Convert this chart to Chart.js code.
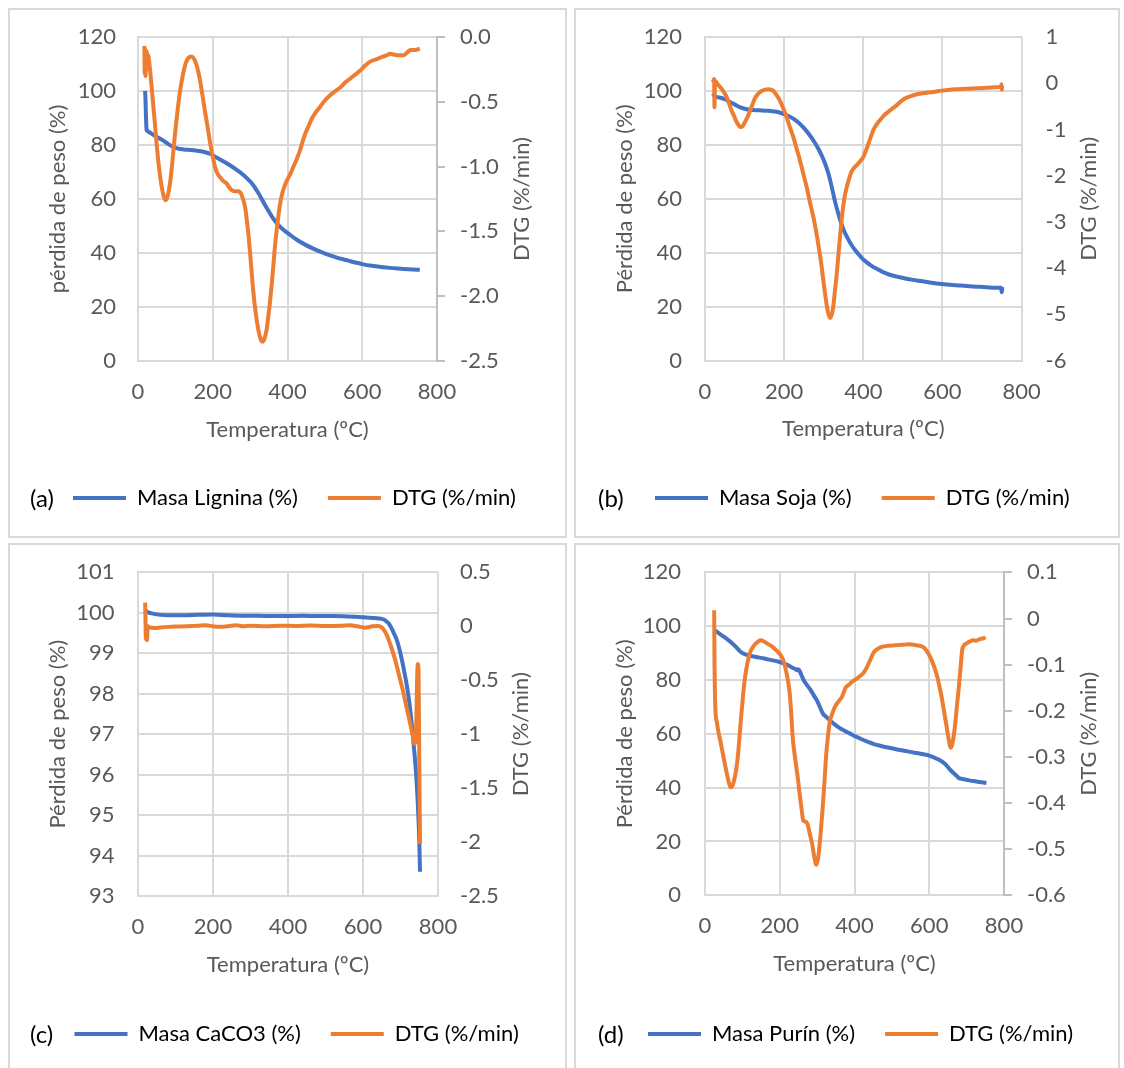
<!DOCTYPE html>
<html>
<head>
<meta charset="utf-8">
<title>Termogravimetría</title>
<script src="https://cdn.jsdelivr.net/npm/chart.js"></script>
<style>
  body { margin: 0; background: #fff; overflow: hidden; }
  #page { position: relative; width: 1124px; height: 1068px; overflow: hidden; font-family: Lato, sans-serif; }
  .panel { position: absolute; border: 2px solid #d9d9d9; box-sizing: border-box; overflow: hidden; }
  .panel canvas { position: absolute; left: 0; top: 0; }
  .tag { position: absolute; font-size: 24px; line-height: 28px; color: #000; }
</style>
</head>
<body>
<div id="page"></div>

<script>
// ---- (a) Lignina ----
const tMasaLignina = [19, 20, 21, 22, 23, 25, 36, 50, 67, 80, 94, 112, 135, 156, 175, 192, 210, 228, 246, 264, 282, 295, 308, 322, 335, 349, 362, 375, 389, 405, 425, 447, 469, 491, 514, 536, 559, 581, 603, 630, 657, 684, 711, 735, 754];
const masaLignina = [100, 97, 92, 88, 85.5, 85.2, 84.2, 83, 81.7, 80.4, 79.3, 78.5, 78.2, 77.9, 77.5, 76.8, 75.4, 74, 72.5, 70.8, 68.9, 67.2, 65.2, 62.2, 59, 55.6, 52.7, 50.4, 48.6, 46.9, 44.9, 43.1, 41.6, 40.3, 39.1, 38.1, 37.3, 36.5, 35.8, 35.2, 34.7, 34.4, 34.1, 33.9, 33.8];
const tDtgLignina = [17, 18, 19, 20, 21, 22, 23.5, 25, 27, 31, 36, 40, 45, 50, 54, 58, 63, 68, 74, 80, 86, 90, 94, 100, 107, 114, 121, 128, 135, 143, 152, 158, 165, 172, 179, 186, 192, 199, 206, 212, 219, 228, 237, 244, 250, 258, 268, 276, 282, 287, 291, 296, 300, 304, 308, 315, 322, 328, 333, 338, 344, 348, 353, 358, 362, 366, 371, 377, 384, 391, 398, 407, 416, 425, 434, 440, 447, 456, 465, 476, 487, 500, 514, 527, 541, 555, 568, 581, 594, 608, 621, 639, 657, 666, 675, 684, 693, 702, 711, 720, 729, 742, 754];
const dtgLignina = [-0.07, -0.28, -0.09, -0.30, -0.12, -0.26, -0.11, -0.16, -0.14, -0.22, -0.37, -0.50, -0.66, -0.83, -0.95, -1.05, -1.15, -1.22, -1.26, -1.22, -1.12, -1.02, -0.90, -0.72, -0.54, -0.39, -0.28, -0.20, -0.16, -0.15, -0.18, -0.23, -0.32, -0.44, -0.57, -0.69, -0.80, -0.91, -1.00, -1.05, -1.08, -1.11, -1.13, -1.16, -1.18, -1.19, -1.19, -1.21, -1.26, -1.32, -1.41, -1.54, -1.67, -1.81, -1.95, -2.13, -2.26, -2.33, -2.35, -2.33, -2.26, -2.17, -2.05, -1.90, -1.77, -1.63, -1.49, -1.35, -1.23, -1.16, -1.11, -1.06, -1.00, -0.94, -0.87, -0.81, -0.75, -0.69, -0.63, -0.58, -0.54, -0.49, -0.45, -0.42, -0.39, -0.35, -0.32, -0.29, -0.26, -0.22, -0.19, -0.17, -0.15, -0.14, -0.13, -0.135, -0.14, -0.14, -0.14, -0.12, -0.10, -0.10, -0.09];

// ---- (b) Soja ----
const tMasaSoja = [20, 22, 25, 38, 50, 63, 75, 88, 100, 114, 139, 160, 173, 186, 198, 210, 223, 235, 248, 261, 274, 285, 295, 304, 312, 318, 324, 330, 337, 343, 349, 357, 366, 376, 387, 397, 408, 421, 434, 450, 467, 488, 509, 535, 560, 585, 610, 636, 661, 686, 711, 735, 748, 750, 751, 752];
const masaSoja = [99, 98.5, 98, 97.5, 96.9, 95.9, 95, 94, 93.4, 93, 92.8, 92.6, 92.4, 92.1, 91.5, 90.8, 89.7, 88.4, 86.6, 84.3, 81.6, 78.9, 76, 72.8, 69.3, 65.8, 61.9, 58.1, 54.4, 51.5, 48.9, 46.3, 43.9, 41.6, 39.6, 37.9, 36.5, 35.1, 34, 32.8, 31.8, 31, 30.3, 29.7, 29.1, 28.6, 28.2, 27.9, 27.6, 27.4, 27.2, 27.0, 27.0, 25.3, 26.8, 27.3];
const tDtgSoja = [20, 22, 23, 24, 25, 27, 30, 36, 42, 48, 55, 61, 67, 74, 80, 86, 90, 95, 101, 108, 114, 120, 126, 134, 143, 152, 160, 167, 173, 181, 189, 197, 206, 214, 223, 231, 240, 248, 257, 265, 274, 280, 286, 293, 299, 303, 307, 311, 316, 320, 324, 328, 333, 337, 341, 345, 349, 353, 358, 364, 370, 378, 387, 393, 400, 406, 413, 419, 425, 433, 442, 452, 463, 473, 484, 494, 505, 520, 535, 556, 577, 598, 619, 640, 661, 686, 711, 730, 747, 749, 750, 751];
const dtgSoja = [0.02, 0.07, 0.09, -0.52, -0.05, 0.04, 0.0, -0.06, -0.12, -0.2, -0.30, -0.44, -0.59, -0.72, -0.84, -0.92, -0.95, -0.93, -0.84, -0.72, -0.59, -0.46, -0.33, -0.23, -0.17, -0.14, -0.13, -0.14, -0.17, -0.26, -0.37, -0.53, -0.73, -0.94, -1.16, -1.40, -1.67, -1.95, -2.25, -2.57, -2.90, -3.17, -3.47, -3.86, -4.27, -4.53, -4.77, -4.97, -5.08, -5.01, -4.84, -4.52, -4.12, -3.72, -3.33, -2.98, -2.68, -2.45, -2.25, -2.07, -1.92, -1.82, -1.74, -1.68, -1.60, -1.47, -1.31, -1.16, -1.02, -0.90, -0.80, -0.70, -0.62, -0.55, -0.48, -0.40, -0.33, -0.28, -0.24, -0.21, -0.19, -0.16, -0.14, -0.13, -0.12, -0.11, -0.10, -0.09, -0.08, -0.02, -0.14, -0.06];

// ---- (c) CaCO3 ----
const tMasaCaco3 = [20, 25, 40, 60, 80, 120, 160, 200, 240, 280, 320, 360, 400, 440, 480, 520, 560, 600, 630, 650, 660, 668, 675, 682, 690, 698, 705, 712, 718, 724, 730, 736, 741, 745, 748, 750, 752];
const masaCaco3 = [100.06, 100.02, 99.98, 99.95, 99.94, 99.94, 99.95, 99.96, 99.94, 99.93, 99.93, 99.92, 99.92, 99.93, 99.92, 99.92, 99.91, 99.89, 99.87, 99.85, 99.81, 99.74, 99.64, 99.5, 99.33, 99.07, 98.78, 98.45, 98.14, 97.75, 97.25, 96.65, 96.1, 95.5, 94.9, 94.4, 93.6];
const tDtgCaco3 = [19, 20, 21, 22, 24, 26, 30, 45, 60, 80, 100, 130, 160, 180, 200, 215, 240, 262, 280, 300, 340, 380, 420, 460, 500, 540, 565, 585, 605, 625, 640, 650, 656, 662, 669, 676, 684, 691, 698, 706, 713, 720, 727, 733, 737, 741, 746, 748, 750, 752];
const dtgCaco3 = [0.22, 0.05, -0.12, -0.03, -0.13, 0.0, -0.01, -0.015, -0.01, -0.005, -0.002, 0.0, 0.005, 0.01, 0.0, -0.005, 0.0, 0.01, 0.0, 0.005, 0.0, 0.006, 0.004, 0.008, 0.002, 0.005, 0.01, 0.0, -0.012, 0.0, 0.003, -0.01, -0.035, -0.07, -0.13, -0.2, -0.29, -0.38, -0.48, -0.59, -0.70, -0.81, -0.92, -1.02, -1.09, -1.02, -0.35, -0.4, -1.2, -2.02];

// ---- (d) Purín ----
const tMasaPurin = [26, 35, 45, 60, 74, 86, 97, 110, 121, 140, 159, 178, 197, 212, 225, 235, 242, 246, 250, 255, 263, 272, 282, 291, 301, 308, 315, 325, 339, 353, 367, 381, 395, 410, 424, 438, 452, 471, 490, 514, 537, 561, 584, 600, 613, 627, 641, 650, 660, 670, 679, 690, 707, 730, 753];
const masaPurin = [98.5, 97.6, 96.6, 95.1, 93.5, 91.8, 90.3, 89.4, 89, 88.5, 88, 87.4, 86.8, 86.1, 85.3, 84.5, 84.1, 83.6, 84, 82.8, 80.2, 78.3, 76.4, 74.3, 72, 69.8, 67.6, 66.2, 64.4, 62.9, 61.6, 60.6, 59.6, 58.6, 57.7, 56.9, 56.2, 55.5, 54.9, 54.2, 53.6, 53, 52.4, 51.9, 51.2, 50.3, 49, 47.6, 46.1, 44.8, 43.6, 43.2, 42.7, 42.2, 41.7];
const tDtgPurin = [24.5, 25.5, 26.5, 28, 32, 36, 41, 47, 53, 60, 64, 69, 74, 78, 83, 88, 92, 97, 102, 107, 114, 121, 128, 135, 142, 149, 158, 168, 178, 187, 197, 206, 212, 217, 222, 227, 231, 235, 239, 244, 249, 253, 258, 263, 268, 274, 280, 287, 292, 298, 302, 305, 310, 315, 320, 324, 329, 334, 341, 348, 357, 367, 372, 376, 386, 395, 405, 414, 424, 433, 443, 452, 462, 471, 490, 509, 528, 546, 565, 584, 594, 603, 613, 622, 628, 632, 639, 646, 652, 658, 664, 669, 674, 679, 684, 688, 693, 698, 708, 717, 726, 736, 745, 750];
const dtgPurin = [0.018, -0.10, -0.16, -0.20, -0.226, -0.246, -0.265, -0.29, -0.315, -0.342, -0.356, -0.366, -0.362, -0.35, -0.33, -0.298, -0.26, -0.21, -0.165, -0.128, -0.095, -0.073, -0.062, -0.055, -0.05, -0.047, -0.05, -0.055, -0.06, -0.066, -0.074, -0.084, -0.097, -0.114, -0.135, -0.165, -0.21, -0.261, -0.29, -0.32, -0.35, -0.379, -0.41, -0.438, -0.44, -0.445, -0.465, -0.49, -0.515, -0.534, -0.522, -0.504, -0.46, -0.408, -0.35, -0.298, -0.255, -0.224, -0.205, -0.191, -0.18, -0.169, -0.158, -0.15, -0.143, -0.136, -0.131, -0.125, -0.118, -0.106, -0.088, -0.073, -0.066, -0.062, -0.059, -0.058, -0.057, -0.056, -0.058, -0.062, -0.071, -0.084, -0.104, -0.128, -0.15, -0.165, -0.198, -0.232, -0.262, -0.28, -0.262, -0.232, -0.19, -0.15, -0.105, -0.069, -0.058, -0.055, -0.05, -0.047, -0.048, -0.044, -0.043, -0.04];

const FONT = 'Lato';
const FS = 22;
const LH = FS * 1.2;
const BLUE = '#4472c4';
const ORANGE = '#ed7d31';
const GRID = '#d9d9d9';

Chart.defaults.font.family = FONT;
Chart.defaults.font.size = FS;
Chart.defaults.color = '#595959';

// secondary axis title reads bottom-to-top, like the left one
const rightTitle = {
    id: 'rightTitle',
    afterDraw(chart, args, opts) {
        const ctx = chart.ctx;
        const a = chart.chartArea;
        ctx.save();
        ctx.translate(opts.x, (a.top + a.bottom) / 2);
        ctx.rotate(-Math.PI / 2);
        ctx.font = FS + 'px ' + FONT;
        ctx.fillStyle = '#595959';
        ctx.textAlign = 'center';
        ctx.textBaseline = 'middle';
        ctx.fillText(opts.text, 0, 0);
        ctx.restore();
    }
};

function pairs(xs, ys) {
    return xs.map((x, i) => ({ x: x, y: ys[i] }));
}

// fixed axis sizes so every panel gets the same plot box
function fixSize(prop, value) {
    return s => {
        s[prop] = value;
        s.paddingTop = 0;
        s.paddingBottom = 0;
        s.paddingLeft = 0;
        s.paddingRight = 0;
    };
}

// p.box = outer frame on the page, p.plot = [left, right, top, bottom] of the plot area
function drawPanel(p) {
    const page = document.getElementById('page');
    const div = document.createElement('div');
    div.className = 'panel';
    div.style.left = p.box[0] + 'px';
    div.style.top = p.box[1] + 'px';
    div.style.width = p.box[2] + 'px';
    div.style.height = p.box[3] + 'px';
    const canvas = document.createElement('canvas');
    const ox = p.box[0] + 2, oy = p.box[1] + 2;
    const W = p.box[2] - 4, H = p.box[3] - 4;
    canvas.width = W;
    canvas.height = H;
    div.appendChild(canvas);
    page.appendChild(div);

    const tag = document.createElement('div');
    tag.className = 'tag';
    tag.textContent = p.tag;
    tag.style.left = p.tagX + 'px';
    tag.style.top = (p.legendY - 14) + 'px';
    page.appendChild(tag);

    const l = p.plot[0] - ox, r = p.plot[1] - ox, t = p.plot[2] - oy, b = p.plot[3] - oy;
    const lp = 30;
    const legendH = FS + lp + 10;
    const legendTop = (p.legendY - oy) - lp - FS / 2;
    const pb = H - legendTop - legendH;
    const pl = (p.legendX - ox) - lp;
    const yWidth = l - pl;
    const y1Width = W - r;
    const xHeight = legendTop - b;

    new Chart(canvas, {
        type: 'line',
        data: {
            datasets: [{
                label: p.massLabel,
                data: pairs(p.tMass, p.mass),
                borderColor: BLUE,
                backgroundColor: BLUE,
                borderWidth: 4,
                pointRadius: 0,
                cubicInterpolationMode: 'monotone',
                yAxisID: 'y',
                order: 1
            }, {
                label: 'DTG (%/min)',
                data: pairs(p.tDtg, p.dtg),
                borderColor: ORANGE,
                backgroundColor: ORANGE,
                borderWidth: 4,
                pointRadius: 0,
                cubicInterpolationMode: 'monotone',
                yAxisID: 'y1',
                order: 0
            }]
        },
        options: {
            responsive: false,
            animation: false,
            layout: { padding: { left: pl, right: 0, top: t, bottom: pb } },
            plugins: {
                tooltip: { enabled: false },
                legend: {
                    position: 'bottom',
                    align: 'start',
                    labels: {
                        boxWidth: 53,
                        boxHeight: 4,
                        padding: lp,
                        color: '#595959',
                        generateLabels: chart => chart.data.datasets.map((ds, i) => ({
                            text: ds.label,
                            fillStyle: ds.borderColor,
                            strokeStyle: ds.borderColor,
                            lineWidth: 0,
                            hidden: false,
                            datasetIndex: i
                        }))
                    }
                },
                rightTitle: { text: 'DTG (%/min)', x: p.y1TitleX - ox }
            },
            scales: {
                x: {
                    type: 'linear',
                    min: 0, max: 800,
                    ticks: { stepSize: 200, padding: 31 - LH / 2 },
                    grid: { color: GRID, lineWidth: 2, drawTicks: false },
                    border: { color: GRID, width: 2 },
                    title: { display: true, text: 'Temperatura (ºC)', padding: { top: 0, bottom: xHeight - 68.5 - LH / 2 } },
                    afterFit: fixSize('height', xHeight)
                },
                y: {
                    position: 'left',
                    min: p.yMin, max: p.yMax,
                    ticks: { stepSize: p.yStep, padding: p.yGap },
                    grid: { color: GRID, lineWidth: 2, drawTicks: false },
                    border: { color: GRID, width: 2 },
                    title: { display: true, text: p.yTitle, padding: { top: (p.yTitleX - ox) - pl - LH / 2, bottom: 0 } },
                    afterFit: fixSize('width', yWidth)
                },
                y1: {
                    position: 'right',
                    min: p.y1Min, max: p.y1Max,
                    ticks: {
                        stepSize: p.y1Step,
                        padding: p.y1Ticks ? p.y1Gap - 8 : p.y1Gap,
                        callback: p.y1Format
                    },
                    grid: {
                        display: p.y1Ticks,
                        drawOnChartArea: false,
                        drawTicks: p.y1Ticks,
                        tickLength: 8,
                        color: '#bfbfbf',
                        lineWidth: 2
                    },
                    border: { display: p.y1Ticks, color: '#bfbfbf', width: 2 },
                    afterFit: fixSize('width', y1Width)
                }
            }
        },
        plugins: [rightTitle]
    });
}

const trim = v => String(+v.toFixed(2));

drawPanel({
    tag: '(a)', tagX: 30, box: [8, 8, 559, 530], plot: [138, 437, 37, 361],
    legendX: 73, legendY: 498, yTitleX: 58, y1TitleX: 522, yGap: 22, y1Gap: 23, y1Ticks: true,
    yTitle: 'pérdida de peso (%)', yMin: 0, yMax: 120, yStep: 20,
    y1Min: -2.5, y1Max: 0, y1Step: 0.5, y1Format: v => v.toFixed(1),
    massLabel: 'Masa Lignina (%)', tMass: tMasaLignina, mass: masaLignina, tDtg: tDtgLignina, dtg: dtgLignina
});

drawPanel({
    tag: '(b)', tagX: 598, box: [574, 8, 546, 530], plot: [705, 1021.6, 37, 360.5],
    legendX: 655, legendY: 498, yTitleX: 625, y1TitleX: 1089, yGap: 23, y1Gap: 24, y1Ticks: false,
    yTitle: 'Pérdida de peso (%)', yMin: 0, yMax: 120, yStep: 20,
    y1Min: -6, y1Max: 1, y1Step: 1, y1Format: trim,
    massLabel: 'Masa Soja (%)', tMass: tMasaSoja, mass: masaSoja, tDtg: tDtgSoja, dtg: dtgSoja
});

drawPanel({
    tag: '(c)', tagX: 30, box: [8, 543, 559, 530], plot: [138, 438, 572.4, 896],
    legendX: 74.5, legendY: 1034, yTitleX: 58, y1TitleX: 521, yGap: 23.5, y1Gap: 22, y1Ticks: false,
    yTitle: 'Pérdida de peso (%)', yMin: 93, yMax: 101, yStep: 1,
    y1Min: -2.5, y1Max: 0.5, y1Step: 0.5, y1Format: trim,
    massLabel: 'Masa CaCO3 (%)', tMass: tMasaCaco3, mass: masaCaco3, tDtg: tDtgCaco3, dtg: dtgCaco3
});

drawPanel({
    tag: '(d)', tagX: 598, box: [574, 543, 546, 530], plot: [705, 1004, 572.4, 895.3],
    legendX: 648, legendY: 1034, yTitleX: 625, y1TitleX: 1089, yGap: 24, y1Gap: 23, y1Ticks: true,
    yTitle: 'Pérdida de peso (%)', yMin: 0, yMax: 120, yStep: 20,
    y1Min: -0.6, y1Max: 0.1, y1Step: 0.1, y1Format: trim,
    massLabel: 'Masa Purín (%)', tMass: tMasaPurin, mass: masaPurin, tDtg: tDtgPurin, dtg: dtgPurin
});
</script>
</body>
</html>
